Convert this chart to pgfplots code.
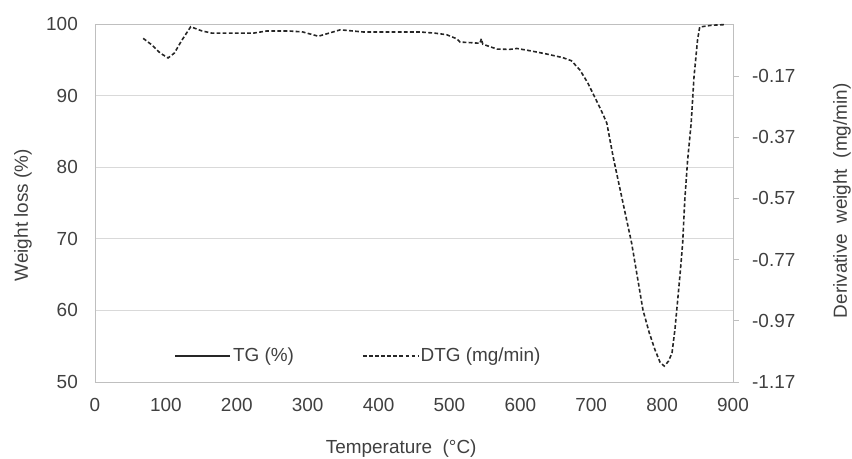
\documentclass[border=0pt]{standalone}
\usepackage{pgfplots}
\pgfplotsset{compat=1.18}
\usepackage{fontspec}
\setmainfont{Liberation Sans}
\definecolor{txt}{HTML}{404040}
\definecolor{axg}{HTML}{BFBFBF}
\definecolor{grd}{HTML}{D9D9D9}
\begin{document}
\begin{tikzpicture}
\begin{axis}[
  scale only axis, width=638bp, height=358bp,
  at={(0,0)}, anchor=south west,
  xmin=0, xmax=900, ymin=50, ymax=100,
  xtick={0,100,...,900}, ytick={50,60,...,100},
  major tick length=0pt,
  axis line style={axg, line width=0.9bp},
  ymajorgrids, grid style={grd, line width=0.9bp},
  font=\fontsize{19}{22}\selectfont,
  tick label style={txt, inner sep=0pt},
  /pgf/number format/assume math mode=true,
  xticklabel style={anchor=north, yshift=-16bp},
  yticklabel style={anchor=east, xshift=-17bp},
  xlabel={Temperature\ \ (°C)},
  xlabel style={txt, at={(axis description cs:0.48,0)}, anchor=center, yshift=-67bp},
  ylabel={Weight loss (\%)},
  ylabel style={txt, at={(axis description cs:0,0.466)}, anchor=center, rotate=0, yshift=72bp},
]
\end{axis}
\begin{axis}[
  scale only axis, width=638bp, height=358bp,
  at={(0,0)}, anchor=south west,
  xmin=0, xmax=900, ymin=-1.17, ymax=0,
  axis x line=none,
  axis y line*=right,
  ytick={-1.17,-0.97,-0.77,-0.57,-0.37,-0.17},
  yticklabels={-1.17,-0.97,-0.77,-0.57,-0.37,-0.17},
  tick align=outside, major tick length=6bp,
  tick style={axg, line width=0.9bp},
  axis line style={axg, line width=0.9bp},
  font=\fontsize{19}{22}\selectfont,
  tick label style={txt, inner sep=0pt},
  yticklabel style={anchor=west, xshift=13bp},
  ylabel={Derivative\ \ weight\ \ (mg/min)},
  ylabel style={txt, at={(axis description cs:1,0.506)}, anchor=center, yshift=-109bp},
  legend style={at={(axis description cs:0.12,0.073)}, anchor=west, draw=none, fill=none,
    legend columns=2, text=txt, font=\fontsize{19}{22}\selectfont,
    /tikz/every even column/.append style={column sep=66bp}},
  legend image code/.code={\draw[#1] (0bp,0bp) -- (55bp,0bp);},
]
\addlegendimage{black!85, solid, line width=1.3bp}
\addlegendentry{TG (\%)}
\addplot[black!85, line width=1.6bp, dash pattern=on 3.8bp off 2.3bp] coordinates {
(68,-0.047) (80,-0.068) (92,-0.095) (103,-0.111) (112,-0.095) (122,-0.055)
(135,-0.009) (150,-0.022) (165,-0.030) (200,-0.030) (223,-0.030) (242,-0.023)
(275,-0.023) (293,-0.026) (315,-0.040) (330,-0.030) (346,-0.019) (378,-0.026)
(420,-0.026) (458,-0.026) (480,-0.030) (496,-0.035) (510,-0.048) (515,-0.059)
(530,-0.061) (543,-0.063) (545,-0.048) (547,-0.066) (567,-0.082) (585,-0.083)
(595,-0.080) (615,-0.088) (637,-0.098) (660,-0.110) (672,-0.120) (684,-0.150)
(695,-0.192) (705,-0.239) (715,-0.287) (722,-0.324) (731,-0.435) (743,-0.565)
(757,-0.716) (765,-0.825) (773,-0.935) (782,-1.010) (790,-1.065) (797,-1.105)
(803,-1.118) (809,-1.102) (814,-1.075) (818,-1.000) (822,-0.902) (826,-0.800)
(829,-0.716) (832,-0.575) (836,-0.445) (841,-0.324) (845,-0.173) (850,-0.052)
(853,-0.010) (870,-0.004) (889,-0.002)
};
\addlegendentry{DTG (mg/min)}
\end{axis}
\pgfresetboundingbox
\useasboundingbox (-95bp,-77bp) rectangle (757bp,382bp);
\end{tikzpicture}
\end{document}
